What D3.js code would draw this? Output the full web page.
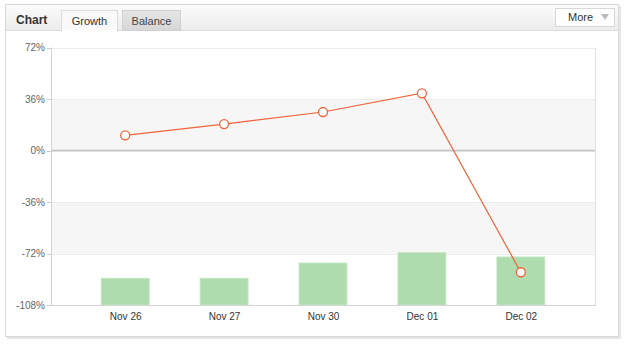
<!DOCTYPE html>
<html>
<head>
<meta charset="utf-8">
<style>
  body { margin: 0; background: #fff; font-family: Tahoma, "Liberation Sans", sans-serif; }
  svg text { font-family: Tahoma, "Liberation Sans", sans-serif; }
  .axis path { display: none; }
  .axis line { stroke: #ccc; shape-rendering: crispEdges; }
  .axis--y text { fill: #666; font-size: 10px; }
  .axis--x text { fill: #333; font-size: 10px; }
</style>
</head>
<body>
<svg width="625" height="345"></svg>
<script src="https://cdn.jsdelivr.net/npm/d3@7"></script>
<script>

var categories = ["Nov 26", "Nov 27", "Nov 30", "Dec 01", "Dec 02"];
var growth = [10.6, 18.5, 26.9, 40.0, -85.1];
var balance = [-89.3, -89.3, -78.6, -71.4, -74.4];
var yTicks = [72, 36, 0, -36, -72, -108];

var svg = d3.select("svg");
var plot = {left: 51, right: 595, top: 47.5, bottom: 305};

var defs = svg.append("defs");
var hg = defs.append("linearGradient").attr("id", "head").attr("x1", 0).attr("y1", 0).attr("x2", 0).attr("y2", 1);
hg.append("stop").attr("offset", "0%").attr("stop-color", "#fbfbfb");
hg.append("stop").attr("offset", "100%").attr("stop-color", "#ececec");
var tg = defs.append("linearGradient").attr("id", "tabOff").attr("x1", 0).attr("y1", 0).attr("x2", 0).attr("y2", 1);
tg.append("stop").attr("offset", "0%").attr("stop-color", "#e6e6e6");
tg.append("stop").attr("offset", "100%").attr("stop-color", "#d6d6d6");

// panel + shadow
svg.append("rect").attr("x", 7).attr("y", 6).attr("width", 614).attr("height", 333).attr("fill", "#e6e6e6");
svg.append("rect").attr("x", 5.5).attr("y", 4.5).attr("width", 613).attr("height", 332)
  .attr("fill", "#fff").attr("stroke", "#d8d8d8");

// header
svg.append("rect").attr("x", 6).attr("y", 5).attr("width", 612).attr("height", 26).attr("fill", "url(#head)");
svg.append("line").attr("x1", 6).attr("x2", 618).attr("y1", 30.5).attr("y2", 30.5).attr("stroke", "#dcdcdc");

svg.append("text").attr("x", 16).attr("y", 24).text("Chart")
  .attr("font-size", "12px").attr("font-weight", "bold").attr("fill", "#333");

svg.append("rect").attr("x", 61.5).attr("y", 10.5).attr("width", 56).attr("height", 21)
  .attr("fill", "#f9f9f9").attr("stroke", "#dcdcdc");
svg.append("rect").attr("x", 62).attr("y", 30).attr("width", 55).attr("height", 2).attr("fill", "#fff");
svg.append("text").attr("x", 89.5).attr("y", 25).attr("text-anchor", "middle").text("Growth")
  .attr("font-size", "11px").attr("fill", "#333");

svg.append("rect").attr("x", 122.5).attr("y", 10.5).attr("width", 58).attr("height", 20)
  .attr("fill", "url(#tabOff)").attr("stroke", "#d0d0d0");
svg.append("text").attr("x", 151.5).attr("y", 25).attr("text-anchor", "middle").text("Balance")
  .attr("font-size", "11px").attr("fill", "#444");

svg.append("rect").attr("x", 555.5).attr("y", 8.5).attr("width", 59).attr("height", 18)
  .attr("fill", "#fff").attr("stroke", "#d8d8d8");
svg.append("text").attr("x", 568).attr("y", 21).text("More")
  .attr("font-size", "11px").attr("fill", "#333");
svg.append("path").attr("d", "M601,14 L609,14 L605,20 Z").attr("fill", "#bbb");

// scales
var x = d3.scalePoint().domain(categories).range([plot.left, plot.right]).padding(0.75);
var y = d3.scaleLinear().domain([-108, 72]).range([plot.bottom, plot.top]);
var bw = x.step() * 0.485;

// bands
var g = svg.append("g");
[[36, 0], [-36, -72]].forEach(function (b) {
  g.append("rect").attr("x", plot.left).attr("width", plot.right - plot.left)
    .attr("y", y(b[0])).attr("height", y(b[1]) - y(b[0])).attr("fill", "#f6f6f6");
});
g.selectAll(".grid").data(yTicks).enter().append("line")
  .attr("x1", plot.left).attr("x2", plot.right)
  .attr("y1", function (d) { return Math.round(y(d)) + 0.5; })
  .attr("y2", function (d) { return Math.round(y(d)) + 0.5; })
  .attr("stroke", "#ececec");

// bars
g.selectAll(".bar").data(balance).enter().append("rect")
  .attr("x", function (d, i) { return x(categories[i]) - bw / 2; })
  .attr("width", bw)
  .attr("y", function (d) { return y(d); })
  .attr("height", function (d) { return y(-108) - y(d); })
  .attr("fill", "#afdcae").attr("stroke", "#c4e6c3").attr("stroke-width", 0.8);

// plot frame
g.append("line").attr("x1", plot.left + 0.5).attr("x2", plot.left + 0.5).attr("y1", plot.top).attr("y2", plot.bottom + 1).attr("stroke", "#d4d4d4");
g.append("line").attr("x1", plot.right + 0.5).attr("x2", plot.right + 0.5).attr("y1", plot.top).attr("y2", plot.bottom + 1).attr("stroke", "#e0e0e0");
g.append("line").attr("x1", plot.left).attr("x2", plot.right + 1).attr("y1", Math.round(y(-108)) + 0.5).attr("y2", Math.round(y(-108)) + 0.5).attr("stroke", "#d4d4d4");
g.append("line").attr("x1", plot.left).attr("x2", plot.right).attr("y1", Math.round(y(0)) - 0.5).attr("y2", Math.round(y(0)) - 0.5)
  .attr("stroke", "#c4c4c4").attr("stroke-width", 1.6);

// axes
svg.append("g").attr("class", "axis axis--y")
  .attr("transform", "translate(" + plot.left + ",0)")
  .call(d3.axisLeft(y).tickValues(yTicks).tickSize(4).tickPadding(2).tickFormat(function (d) { return d + "%"; }));
svg.append("g").attr("class", "axis axis--x")
  .attr("transform", "translate(0," + plot.bottom + ")")
  .call(d3.axisBottom(x).tickSize(0).tickPadding(8));

// growth line
var line = d3.line()
  .x(function (d, i) { return x(categories[i]); })
  .y(function (d) { return y(d); });
svg.append("path").datum(growth).attr("d", line)
  .attr("fill", "none").attr("stroke", "#f0643a").attr("stroke-width", 1.2);
svg.selectAll(".dot").data(growth).enter().append("circle")
  .attr("cx", function (d, i) { return x(categories[i]); })
  .attr("cy", function (d) { return y(d); })
  .attr("r", 4.5).attr("fill", "#fff").attr("stroke", "#f0643a").attr("stroke-width", 1.3);

</script>
</body>
</html>
